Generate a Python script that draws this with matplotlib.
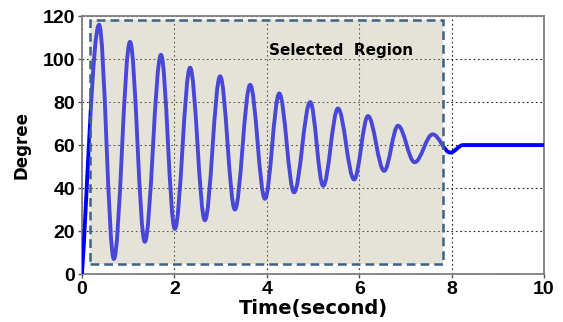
import matplotlib.pyplot as plt
from matplotlib.path import Path
from matplotlib.patches import PathPatch, Rectangle

# extrema of the response (time in s, angle in degree)
t_ext = [0.0, 0.37, 0.69, 1.04, 1.36, 1.71, 2.01, 2.34, 2.66, 2.99, 3.31, 3.64,
         3.96, 4.27, 4.59, 4.94, 5.22, 5.54, 5.89, 6.19, 6.54, 6.84, 7.20, 7.59,
         7.97, 8.25, 10.0]
deg_ext = [0, 116, 7, 108, 15, 102, 21, 96, 25, 92, 30, 88,
           35, 84, 38, 80, 41, 77, 44, 73.5, 48, 69, 52, 65,
           56.5, 60, 60]

region_t = [0.17, 7.81]
region_deg = [4.7, 118]

xticks = [0, 2, 4, 6, 8, 10]
yticks = [0, 20, 40, 60, 80, 100, 120]

plt.rcParams['font.family'] = ['Liberation Sans', 'DejaVu Sans']

fig = plt.figure(figsize=(5.63, 3.22), dpi=100)
ax = fig.add_axes([0.1456, 0.149, 0.8207, 0.801])

# smooth curve through the extrema with horizontal tangents (cubic bezier)
verts = [(t_ext[0], deg_ext[0])]
codes = [Path.MOVETO]
for i in range(1, len(t_ext)):
    t0, v0 = t_ext[i - 1], deg_ext[i - 1]
    t1, v1 = t_ext[i], deg_ext[i]
    dt = t1 - t0
    if i == 1:
        c1 = (t0 + 0.3 * dt, v0 + 0.3 * (v1 - v0))
    else:
        c1 = (t0 + 0.36 * dt, v0)
    c2 = (t1 - 0.36 * dt, v1)
    verts += [c1, c2, (t1, v1)]
    codes += [Path.CURVE4] * 3
ax.add_patch(PathPatch(Path(verts, codes), facecolor='none', edgecolor='#0000ff',
                       lw=2.8, capstyle='round', joinstyle='round', zorder=3))

# selected region overlay
ax.add_patch(Rectangle((region_t[0], region_deg[0]), region_t[1] - region_t[0],
                       region_deg[1] - region_deg[0], facecolor='#beb99a',
                       alpha=0.39, edgecolor='none', zorder=4))
ax.add_patch(Rectangle((region_t[0], region_deg[0]), region_t[1] - region_t[0],
                       region_deg[1] - region_deg[0], facecolor='none',
                       edgecolor='#3d6188', lw=1.8, ls=(0, (3.5, 2)), zorder=5))
ax.text(5.6, 104, 'Selected  Region', ha='center', va='center', fontsize=11,
        fontweight='bold', family=['DejaVu Sans'], zorder=6)

ax.set_xlim(0, 10)
ax.set_ylim(0, 120)
ax.set_xticks(xticks)
ax.set_yticks(yticks)
ax.grid(True, color='#222222', ls=(0, (1.5, 2.5)), lw=0.8)
ax.set_axisbelow(True)
for s in ax.spines.values():
    s.set_color('#7f7f7f')
    s.set_linewidth(1.3)
ax.tick_params(direction='out', length=3, width=1, color='#555555',
               labelsize=14, pad=2)
for lab in ax.get_xticklabels() + ax.get_yticklabels():
    lab.set_fontweight('bold')
ax.set_xlabel('Time(second)', fontsize=14, fontweight='bold', labelpad=1,
              family=['DejaVu Sans'])
ax.set_ylabel('Degree', fontsize=12, fontweight='bold', labelpad=9,
              family=['DejaVu Sans'])

fig.savefig('out.png', dpi=100)
